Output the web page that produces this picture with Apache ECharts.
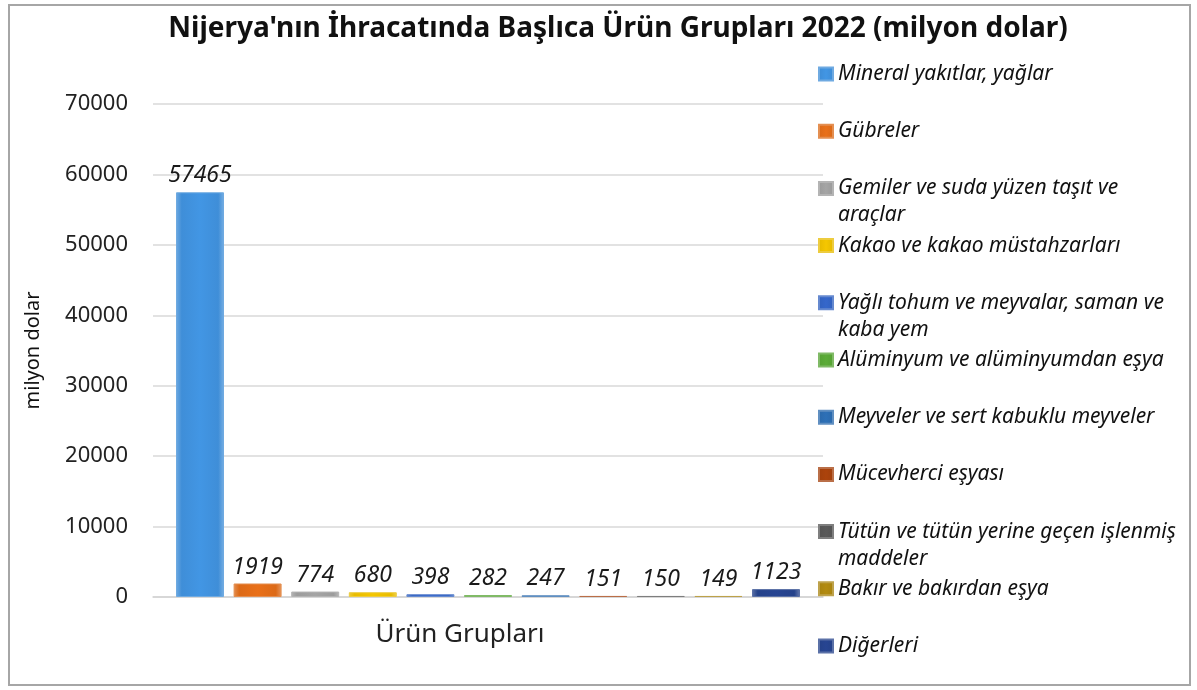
<!DOCTYPE html>
<html>
<head>
<meta charset="utf-8">
<script src="https://cdn.jsdelivr.net/npm/echarts@6/dist/echarts.min.js"></script>
<style>
  html, body { margin: 0; padding: 0; background: #fff; }
  #chart { position: absolute; left: 0; top: 0; width: 1197px; height: 690px; }
  #frame { position: absolute; left: 8px; top: 4px; width: 1179px; height: 678px;
           border: 2px solid #a6a6a6; pointer-events: none; }
</style>
</head>
<body>
<div id="chart"></div>
<div id="frame"></div>
<script>
// ürün grupları (legend / series names)
const groups = [
  'Mineral yakıtlar, yağlar',
  'Gübreler',
  'Gemiler ve suda yüzen taşıt ve araçlar',
  'Kakao ve kakao müstahzarları',
  'Yağlı tohum ve meyvalar, saman ve kaba yem',
  'Alüminyum ve alüminyumdan eşya',
  'Meyveler ve sert kabuklu meyveler',
  'Mücevherci eşyası',
  'Tütün ve tütün yerine geçen işlenmiş maddeler',
  'Bakır ve bakırdan eşya',
  'Diğerleri'
]
// how legend texts wrap in the picture
const legendLabels = [
  'Mineral yakıtlar, yağlar',
  'Gübreler',
  'Gemiler ve suda yüzen taşıt ve\naraçlar',
  'Kakao ve kakao müstahzarları',
  'Yağlı tohum ve meyvalar, saman ve\nkaba yem',
  'Alüminyum ve alüminyumdan eşya',
  'Meyveler ve sert kabuklu meyveler',
  'Mücevherci eşyası',
  'Tütün ve tütün yerine geçen işlenmiş\nmaddeler',
  'Bakır ve bakırdan eşya',
  'Diğerleri'
]
// 2022 ihracat, milyon dolar
const values = [57465, 1919, 774, 680, 398, 282, 247, 151, 150, 149, 1123]
const xCategories = ['Ürün Grupları']
const yTicks = [0, 10000, 20000, 30000, 40000, 50000, 60000, 70000]

const colors = ['#3f8ed8', '#dc6a18', '#9c9c9c', '#e8bc00', '#3262c0', '#56a334',
                '#2b6aad', '#a3400c', '#555555', '#a98410', '#25428a']

const chart = echarts.init(document.getElementById('chart'))

//3 boyutlu görünüm için yatay gradyan
function barColor(c){
  return new echarts.graphic.LinearGradient(0, 0, 1, 0, [
    {offset: 0, color: echarts.color.lift(c, 0.25)},
    {offset: 0.12, color: c},
    {offset: 0.5, color: echarts.color.lift(c, -0.06)},
    {offset: 0.88, color: c},
    {offset: 1, color: echarts.color.lift(c, 0.3)}
  ])
}

const series = groups.map((name, i) => ({
  name: name,
  type: 'bar',
  data: [values[i]],
  barWidth: 48,
  barGap: '20%',
  itemStyle: {
    color: barColor(colors[i]),
    borderColor: echarts.color.lift(colors[i], 0.25),
    borderWidth: 1
  },
  label: {
    show: true,
    position: 'top',
    distance: 5,
    color: '#1a1a1a',
    fontStyle: 'italic',
    fontFamily: 'Noto Sans',
    fontSize: 23
  }
}))

const legendStart = 74
const legendStep = 57.2
const legends = groups.map((name, i) => {
  const twoLine = legendLabels[i].indexOf('\n') >= 0
  return {
    orient: 'vertical',
    left: 818,
    top: legendStart + i * legendStep - (twoLine ? 40.5 : 13.5),
    padding: 0,
    itemWidth: 14,
    itemHeight: 13,
    icon: 'rect',
    selectedMode: false,
    data: [name],
    // boş ilk satır: ilk metin satırı işaretle hizalı kalsın
    formatter: () => (twoLine ? '\u00a0\n' : '') + legendLabels[i],
    textStyle: {
      color: '#111',
      fontStyle: 'italic',
      fontFamily: 'Noto Sans',
      fontSize: 21,
      lineHeight: 27
    }
  }
})

const option = {
  animation: false,
  color: colors,
  title: {
    text: "Nijerya'nın İhracatında Başlıca Ürün Grupları 2022 (milyon dolar)",
    left: 613,
    top: 10,
    textAlign: 'center',
    textStyle: {
      fontFamily: 'Noto Sans',
      fontWeight: 'bold',
      fontSize: 28,
      color: '#111'
    }
  },
  legend: legends,
  grid: {
    left: 153,
    top: 104,
    right: 374,
    bottom: 93,
    containLabel: false
  },
  xAxis: {
    type: 'category',
    data: xCategories,
    axisLine: {lineStyle: {color: '#d4d4d4', width: 1.5}},
    axisTick: {show: false},
    axisLabel: {
      margin: 25,
      color: '#222',
      fontFamily: 'Noto Sans',
      fontSize: 26,
      padding: [0, 56, 0, 0]
    }
  },
  yAxis: {
    type: 'value',
    min: yTicks[0],
    max: yTicks[yTicks.length - 1],
    interval: yTicks[1] - yTicks[0],
    name: 'milyon dolar',
    nameLocation: 'middle',
    nameGap: 110,
    nameTextStyle: {
      color: '#111',
      fontFamily: 'Noto Sans',
      fontSize: 20
    },
    axisLine: {show: false},
    axisTick: {show: false},
    axisLabel: {
      margin: 25,
      color: '#222',
      fontFamily: 'Noto Sans',
      fontSize: 22,
      formatter: v => String(v)
    },
    splitLine: {lineStyle: {color: '#d9d9d9', width: 1.5}}
  },
  series: series
}

chart.setOption(option)
</script>
</body>
</html>
